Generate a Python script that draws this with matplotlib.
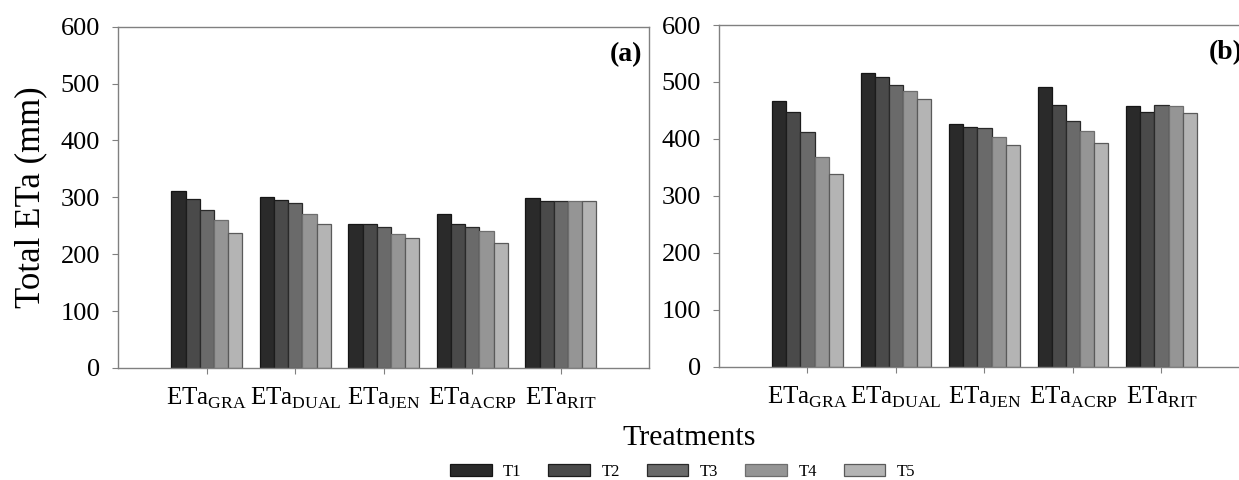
import numpy as np
import matplotlib
matplotlib.use('Agg')
import matplotlib.pyplot as plt

plt.rcParams['font.family'] = ['Liberation Serif', 'DejaVu Serif']
plt.rcParams['mathtext.fontset'] = 'custom'
plt.rcParams['mathtext.rm'] = 'Liberation Serif'

# data
methods = ['GRA', 'DUAL', 'JEN', 'ACRP', 'RIT']
treatments = ['T1', 'T2', 'T3', 'T4', 'T5']

# panel (a): rows = methods, columns = T1..T5
eta_a = [
    [311, 297, 277, 260, 237],
    [301, 295, 290, 270, 254],
    [253, 253, 247, 236, 228],
    [270, 253, 247, 240, 219],
    [299, 293, 293, 293, 293],
]
# panel (b)
eta_b = [
    [467, 447, 412, 369, 339],
    [515, 508, 494, 484, 470],
    [426, 421, 420, 404, 390],
    [492, 460, 431, 413, 393],
    [457, 447, 459, 457, 445],
]

colors = ['#2a2a2a', '#4a4a4a', '#6a6a6a', '#959595', '#b4b4b4']
edges = ['#151515', '#1c1c1c', '#2a2a2a', '#6e6e6e', '#5a5a5a']
spine_c = '#808080'
xlabels = [r'ETa$_{\mathrm{%s}}$' % m for m in methods]

fig = plt.figure(figsize=(12.39, 4.8), dpi=100)
ax_a = fig.add_axes([118.3/1239, 112/480, 531/1239, 341.3/480])
ax_b = fig.add_axes([719/1239, 113.3/480, 531/1239, 341.7/480])


def draw(ax, data, tag):
    data = np.array(data)
    x = np.arange(1, len(methods) + 1)
    w = 0.16
    for j in range(len(treatments)):
        ax.bar(x + (j - 2) * w, data[:, j], w, color=colors[j],
               edgecolor=edges[j], linewidth=0.9, label=treatments[j])
    ax.set_xlim(0, 6)
    ax.set_ylim(0, 600)
    ax.set_yticks(range(0, 601, 100))
    ax.set_xticks(x)
    ax.set_xticklabels(xlabels)
    for s in ax.spines.values():
        s.set_color(spine_c)
        s.set_linewidth(1.0)
    ax.tick_params(axis='y', direction='out', length=4, color=spine_c,
                   labelsize=19, pad=9)
    ax.tick_params(axis='x', direction='out', length=4, color=spine_c,
                   labelsize=18, pad=9)
    ax.text(0.986, 0.955, tag, transform=ax.transAxes, ha='right', va='top',
            fontsize=20, fontweight='bold')


draw(ax_a, eta_a, '(a)')
draw(ax_b, eta_b, '(b)')

ax_a.set_ylabel('Total ETa (mm)', fontsize=25, labelpad=10)
fig.text(0.556, 0.088, 'Treatments', ha='center', va='center', fontsize=21.5)

h, l = ax_a.get_legend_handles_labels()
fig.legend(h, l, loc='center', ncol=5, bbox_to_anchor=(0.551, 0.017),
           frameon=False, fontsize=12, handlelength=2.5, handleheight=0.7,
           handletextpad=0.7, columnspacing=1.6, borderpad=0.1)

plt.savefig('out.png', dpi=100)
